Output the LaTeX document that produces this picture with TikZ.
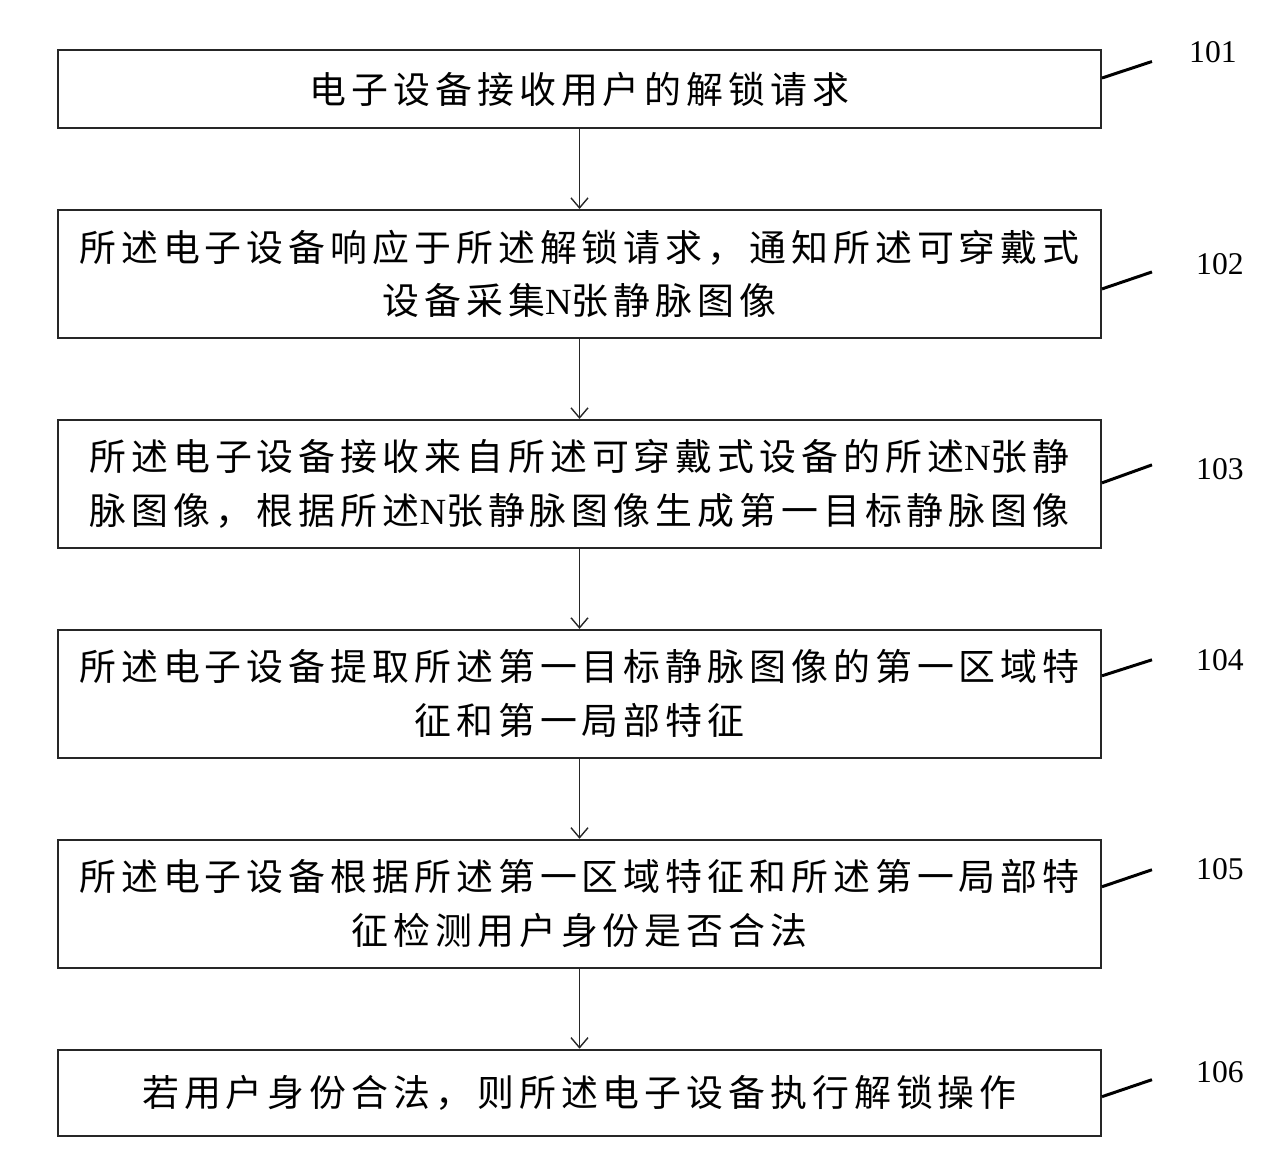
\documentclass[tikz,border=0pt]{standalone}
\usepackage{fontspec}
\setmainfont{Liberation Serif}
\newfontfamily\cjk[LetterSpace=13.5]{Noto Sans CJK SC}
\usetikzlibrary{positioning,arrows.meta}

\tikzset{
  stepbox/.style={draw=black!85, line width=1.1pt, minimum width=20.86cm, inner sep=0pt,
    align=center, font=\cjk\fontsize{21}{30.7}\selectfont},
  tall/.style={minimum height=2.56cm},
  flow/.style={draw=black!85, line width=0.8pt, -{Straight Barb[length=2mm,width=3.4mm]}},
  tag/.style={draw=black, line width=1.7pt},
  tagnum/.style={font=\fontsize{18}{18}\selectfont}
}

\begin{document}
\begin{tikzpicture}[auto,node distance=1.6cm]
  \useasboundingbox (0,0) rectangle (25.6,-23.28);

  \node[stepbox,minimum height=1.56cm] (s101) at (11.59,-1.78) {电子设备接收用户的解锁请求};
  \node[stepbox,tall] (s102) [below = of s101] {所述电子设备响应于所述解锁请求，通知所述可穿戴式\\设备采集{\rmfamily N}张静脉图像};
  \node[stepbox,tall] (s103) [below = of s102] {所述电子设备接收来自所述可穿戴式设备的所述{\rmfamily N}张静\\脉图像，根据所述{\rmfamily N}张静脉图像生成第一目标静脉图像};
  \node[stepbox,tall] (s104) [below = of s103] {所述电子设备提取所述第一目标静脉图像的第一区域特\\征和第一局部特征};
  \node[stepbox,tall] (s105) [below = of s104] {所述电子设备根据所述第一区域特征和所述第一局部特\\征检测用户身份是否合法};
  \node[stepbox,minimum height=1.72cm] (s106) [below = of s105] {若用户身份合法，则所述电子设备执行解锁操作};

  \draw[flow] (s101) -- (s102);
  \draw[flow] (s102) -- (s103);
  \draw[flow] (s103) -- (s104);
  \draw[flow] (s104) -- (s105);
  \draw[flow] (s105) -- (s106);

  \draw[tag] ([yshift=0.22cm]s101.east) -- ++(1.0cm,0.33cm) coordinate (t101);
  \draw[tag] ([yshift=-0.30cm]s102.east) -- ++(1.0cm,0.34cm) coordinate (t102);
  \draw[tag] ([yshift=0.02cm]s103.east) -- ++(1.0cm,0.36cm) coordinate (t103);
  \draw[tag] ([yshift=0.36cm]s104.east) -- ++(1.0cm,0.32cm) coordinate (t104);
  \draw[tag] ([yshift=0.34cm]s105.east) -- ++(1.0cm,0.34cm) coordinate (t105);
  \draw[tag] ([yshift=-0.08cm]s106.east) -- ++(1.0cm,0.34cm) coordinate (t106);

  \node[tagnum, right=0.62cm of t101, yshift=0.18cm] (n101) {101};
  \node[tagnum, right=0.76cm of t102, yshift=0.16cm] (n102) {102};
  \node[tagnum, right=0.76cm of t103, yshift=-0.08cm] (n103) {103};
  \node[tagnum, right=0.76cm of t104] (n104) {104};
  \node[tagnum, right=0.76cm of t105, yshift=0.02cm] (n105) {105};
  \node[tagnum, right=0.76cm of t106, yshift=0.16cm] (n106) {106};
\end{tikzpicture}
\end{document}
